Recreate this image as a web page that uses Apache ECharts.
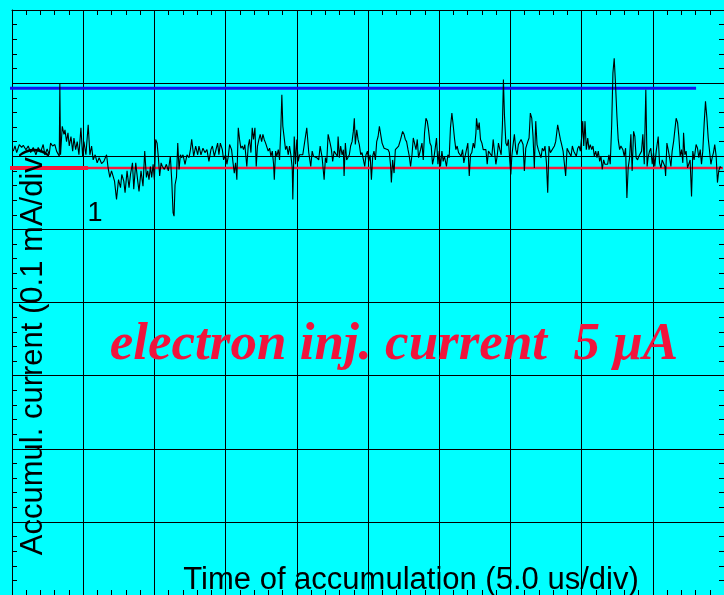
<!DOCTYPE html>
<html>
<head>
<meta charset="utf-8">
<title>Accumulated current trace</title>
<script src="https://cdn.jsdelivr.net/npm/echarts@6/dist/echarts.min.js"></script>
<style>
  html, body { margin: 0; padding: 0; background: #00ffff; }
  #chart { width: 724px; height: 595px; }
</style>
</head>
<body>
<div id="chart"></div>
<script>
// Axis ranges: time in microseconds (5 us/div), current in microamps (0.1 mA/div)
const timeRange = [0, 50, 5];
const currentRange = [-600, 200, 100];

// Accumulated current trace: sample times (us)
const timeUs = [
  0.09,0.21,0.33,0.51,0.68,0.79,0.98,1.14,1.31,1.49,1.68,1.84,2.01,2.19,2.31,2.47,2.61,2.71,2.85,3.01,
  3.13,3.32,3.36,3.41,3.53,3.65,3.72,3.83,3.93,4.02,4.14,4.26,4.35,4.47,4.58,4.70,4.84,4.96,5.05,5.19,
  5.35,5.47,5.59,5.70,5.84,5.98,6.12,6.29,6.45,6.64,6.75,6.87,6.99,
  7.01,7.20,7.34,7.48,7.62,7.71,7.85,7.94,8.08,8.22,8.32,8.46,8.55,8.69,8.83,8.92,9.06,9.20,9.32,9.44,
  9.53,9.62,9.72,9.81,9.91,10.00,10.09,10.19,10.28,10.37,10.47,10.56,10.70,10.84,10.98,11.12,11.22,11.31,11.38,11.45,
  11.55,11.64,11.73,11.83,11.92,12.01,12.15,12.29,12.43,12.53,12.62,12.76,12.90,13.04,13.13,13.27,13.41,13.55,13.69,13.83,
  13.97,14.07,14.21,
  14.30,14.44,14.53,14.63,14.77,14.86,15.00,15.09,15.19,15.28,15.42,15.51,15.61,15.70,15.79,15.89,15.98,16.07,16.17,16.26,
  16.35,16.49,16.59,16.68,16.78,16.87,16.96,17.06,17.15,17.24,17.34,17.43,17.53,17.62,17.71,17.81,17.90,17.99,18.09,18.18,
  18.28,18.37,18.42,18.51,18.60,18.70,18.79,18.88,18.95,19.02,19.12,19.21,19.30,19.40,19.49,19.58,19.68,19.72,19.82,19.91,
  20.00,20.10,20.19,20.28,20.42,20.56,20.70,20.84,20.98,21.08,21.17,21.26,21.40,
  21.54,21.64,21.78,21.92,22.01,22.10,22.20,22.34,22.43,22.52,22.62,22.76,22.85,22.90,22.99,23.08,23.18,23.27,23.32,23.41,
  23.50,23.60,23.69,23.78,23.88,23.97,24.04,24.11,24.21,24.30,24.39,24.49,24.58,24.68,24.77,24.86,24.96,25.05,25.15,25.24,
  25.33,25.42,25.52,25.61,25.71,25.80,25.89,25.99,26.13,26.27,26.41,26.50,26.59,26.64,26.73,26.83,26.92,27.01,27.15,27.29,
  27.43,27.53,27.62,27.71,27.81,27.90,27.99,28.09,28.18,28.27,28.37,28.46,28.55,
  28.69,28.79,28.88,28.97,29.07,29.16,29.25,29.35,29.44,29.53,29.63,29.72,29.81,29.91,30.00,30.09,30.19,30.28,30.37,30.51,
  30.61,30.70,30.79,30.89,30.98,31.07,31.17,31.26,31.36,31.45,31.54,31.64,31.73,31.82,31.92,32.01,32.11,32.20,32.29,32.39,
  32.48,32.58,32.62,32.72,32.81,32.90,33.00,33.09,33.18,33.28,33.37,33.46,33.60,33.70,33.79,33.88,33.98,34.07,34.16,34.26,
  34.35,34.44,34.51,34.58,34.68,34.77,34.86,34.96,35.03,35.10,35.19,35.28,35.38,35.47,35.56,
  35.75,35.89,35.98,36.08,36.22,36.31,36.40,36.50,36.59,36.68,36.78,36.87,36.96,37.06,37.15,37.24,37.34,37.43,37.53,37.62,
  37.71,37.81,37.95,38.09,38.18,38.32,38.41,38.51,38.60,38.70,38.79,38.88,38.98,39.07,39.17,39.26,39.35,39.45,39.54,39.63,
  39.73,39.82,39.91,40.01,40.08,40.15,40.24,40.33,40.43,40.52,40.61,40.71,40.80,40.89,40.99,41.08,41.17,41.27,41.36,41.45,
  41.55,41.64,41.73,41.83,41.92,42.01,42.11,42.20,42.29,42.39,42.48,42.57,42.67,42.76,
  42.90,42.99,43.09,43.18,43.27,43.37,43.46,43.55,43.65,43.74,43.83,43.93,44.02,44.11,44.21,44.30,44.40,44.51,44.60,44.67,
  44.77,44.86,44.96,45.05,45.14,45.24,45.38,45.47,45.57,45.66,45.75,45.85,45.90,45.99,46.08,46.18,46.27,46.36,46.46,46.55,
  46.64,46.74,46.83,46.92,47.02,47.11,47.16,47.25,47.34,47.44,47.53,47.62,47.72,47.81,47.90,48.04,48.14,48.23,48.33,48.42,
  48.51,48.61,48.70,48.80,48.89,48.98,49.08,49.17,49.26,49.35,49.45,49.54,49.63,49.73,49.82
];

// Accumulated current trace: values (uA)
const currentUa = [
  7,14,5,16,12,15,9,14,5,12,2,12,6,16,2,10,2,18,14,16,
  7,0,99,2,41,30,36,20,32,14,27,7,25,9,20,2,39,0,20,2,
  43,2,14,-5,2,-9,-2,-10,-7,2,-16,-29,-20,
  -18,-34,-59,-32,-43,-25,-34,-50,-20,-43,-25,-9,-45,-9,-34,-48,-20,-41,7,-29,
  -20,-32,-14,-29,-11,-32,23,18,-2,-27,-9,-14,-18,-11,-20,0,-34,-77,-82,-39,
  -29,18,-18,2,-2,2,-11,2,-2,9,23,0,14,2,14,2,11,5,9,-7,
  9,14,0,
  0,18,2,18,9,-5,2,-11,0,16,9,-7,-23,-9,-32,39,23,11,14,9,
  16,-14,14,23,5,39,23,39,-14,14,23,30,20,30,23,18,16,7,11,0,
  7,-11,-32,7,0,9,-5,39,84,41,39,9,14,2,14,2,-16,-59,27,-11,
  23,-7,2,0,2,0,39,5,-14,7,0,2,-2,
  -5,14,-2,-32,-2,-9,30,18,9,-7,7,7,0,27,-2,14,2,9,-27,18,
  -5,-7,2,14,20,34,52,16,36,23,16,2,5,-5,-14,2,7,-7,2,-32,
  0,7,-5,20,27,41,30,18,11,11,9,5,-14,-36,-5,-23,9,11,14,23,
  34,30,23,20,9,0,-14,2,25,27,9,23,-2,
  9,18,-5,32,52,48,36,18,14,-11,-2,11,25,-11,7,-14,7,-7,0,-14,
  2,-2,39,59,43,25,9,14,5,7,0,9,-9,0,-2,18,-27,2,5,18,
  11,32,52,36,46,23,18,9,7,9,-11,7,9,0,23,7,-11,0,18,9,
  2,43,105,57,18,14,23,-7,-25,0,16,30,9,2,16,
  23,16,-20,11,20,25,59,52,27,-16,48,16,9,7,-2,11,7,14,-9,-50,
  14,5,5,14,20,43,43,23,16,7,9,-27,11,7,9,0,14,7,9,0,
  11,14,7,27,48,14,48,9,25,9,16,9,14,0,7,-2,7,-7,0,-18,
  -5,-11,-9,-11,2,-11,41,114,134,95,55,23,9,14,
  9,0,11,-57,-16,-2,30,-20,34,27,-2,-5,0,2,7,30,-11,91,-14,-2,
  7,11,-11,5,-14,7,27,-9,-16,-5,-7,-14,-27,18,9,-2,-14,7,20,36,
  52,46,27,0,9,-9,32,2,7,-16,-18,-5,-55,7,-5,16,11,-2,9,-11,
  7,46,75,52,25,23,-11,-2,5,16,0,-36,-20,-14,-16
];

// Reference levels drawn across the screen (time span in us, level in uA)
const upperLevelTimes = [-0.14, 48.04];
const upperLevelUa = 93;
const lowerLevelTimes = [-0.14, 49.93];
const lowerMarkerTimes = [-0.14, 5.33];
const lowerLevelUa = -16;

// Text drawn on the screen
const traceTag = '1';
const mainNote = 'electron inj. current  5 \u03bcA';
const xTitle = 'Time of accumulation (5.0 us/div)';
const yTitle = 'Accumul. current (0.1 mA/div)';

const traceData = timeUs.map((t, i) => [t, currentUa[i]]);
const levelData = (times, v) => times.map(t => [t, v]);

const chart = echarts.init(document.getElementById('chart'), null, { renderer: 'canvas' });

// Frame on all four sides: axis lines stay on the plot border, ticks point inward
const frameAxis = (extra) => Object.assign({
  type: 'value',
  axisLine: { show: true, onZero: false, lineStyle: { color: '#000', width: 1 } },
  axisTick: { show: true, inside: true, length: 5, lineStyle: { color: '#000', width: 1 } },
  minorTick: { show: true, splitNumber: 5, length: 5, lineStyle: { color: '#000', width: 1 } },
  axisLabel: { show: false }
}, extra);

const xAxisFor = (pos, grid) => frameAxis({
  position: pos, min: timeRange[0], max: timeRange[1], interval: timeRange[2],
  splitLine: { show: grid, lineStyle: { color: '#000', width: 1 } }
});

const yAxisFor = (pos, grid) => frameAxis({
  position: pos, min: currentRange[0], max: currentRange[1], interval: currentRange[2],
  splitLine: { show: grid, lineStyle: { color: '#000', width: 1 } }
});

chart.setOption({
  animation: false,
  backgroundColor: '#00ffff',
  grid: { left: 12, top: 10, width: 713, height: 587, containLabel: false },
  xAxis: [xAxisFor('bottom', true), xAxisFor('top', false)],
  yAxis: [yAxisFor('left', true), yAxisFor('right', false)],
  series: [
    {
      type: 'line', data: levelData(upperLevelTimes, upperLevelUa), clip: false, silent: true,
      showSymbol: false, lineStyle: { color: '#1010ee', width: 3 }, z: 2
    },
    {
      type: 'line', data: levelData(lowerLevelTimes, lowerLevelUa), clip: false, silent: true,
      showSymbol: false, lineStyle: { color: '#f51a3c', width: 2.4 }, z: 2
    },
    {
      type: 'line', data: levelData(lowerMarkerTimes, lowerLevelUa), clip: false, silent: true,
      showSymbol: false, lineStyle: { color: '#f51a3c', width: 4 }, z: 2
    },
    {
      type: 'line', data: traceData, showSymbol: false, silent: true,
      lineStyle: { color: '#000', width: 1.1 }, z: 3
    }
  ],
  graphic: [
    {
      type: 'text', x: 95, y: 214, z: 10,
      style: { text: traceTag, font: '27px "Liberation Sans", Arial, sans-serif', fill: '#000',
               align: 'center', verticalAlign: 'middle' }
    },
    {
      type: 'text', x: 394, y: 345, z: 10,
      style: { text: mainNote, font: 'italic bold 53px "Liberation Serif", "Times New Roman", serif',
               fill: '#f0143c', align: 'center', verticalAlign: 'middle' }
    },
    {
      type: 'text', x: 411, y: 580, z: 10,
      style: { text: xTitle, font: '31px "Liberation Sans", Arial, sans-serif', fill: '#000',
               align: 'center', verticalAlign: 'middle' }
    },
    {
      type: 'text', x: 33, y: 351, rotation: Math.PI / 2, z: 10,
      style: { text: yTitle, font: '31px "Liberation Sans", Arial, sans-serif', fill: '#000',
               align: 'center', verticalAlign: 'middle' }
    }
  ]
});
</script>
</body>
</html>
